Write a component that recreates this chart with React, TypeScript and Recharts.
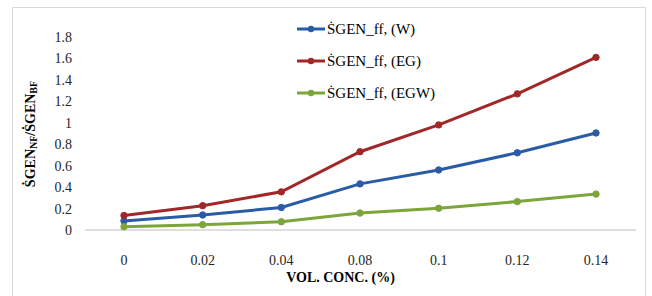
import React from "react";
import { LineChart, Line, XAxis, YAxis, Legend, Label } from "recharts";

const categories = ["0", "0.02", "0.04", "0.08", "0.1", "0.12", "0.14"];
const seriesW = [0.085, 0.14, 0.21, 0.43, 0.56, 0.72, 0.905];
const seriesEG = [0.135, 0.227, 0.356, 0.73, 0.98, 1.27, 1.61];
const seriesEGW = [0.03, 0.05, 0.077, 0.158, 0.203, 0.265, 0.335];
const yTicks = [0, 0.2, 0.4, 0.6, 0.8, 1, 1.2, 1.4, 1.6, 1.8];

const names = ["\u1E60GEN_ff, (W)", "\u1E60GEN_ff, (EG)", "\u1E60GEN_ff, (EGW)"];
const colors = ["#2a5ca6", "#a12828", "#7ca53a"];

const data = categories.map((c, i) => ({
  conc: c,
  w: seriesW[i],
  eg: seriesEG[i],
  egw: seriesEGW[i],
}));

const FONT = "Liberation Serif";

const LegendContent = (props: any) => {
  const payload = [...(props.payload || [])].sort(
    (a: any, b: any) => names.indexOf(a.value) - names.indexOf(b.value)
  );
  return (
    <div style={{ fontFamily: FONT, fontSize: 15, color: "#000" }}>
      {payload.map((p: any) => (
        <div key={p.value} style={{ display: "flex", alignItems: "center", height: 32 }}>
          <svg width={28} height={32} style={{ display: "block" }}>
            <line x1={0} y1={16} x2={28} y2={16} stroke={p.color} strokeWidth={3} />
            <circle cx={14} cy={16} r={3.2} fill={p.color} />
          </svg>
          <span style={{ marginLeft: 2, whiteSpace: "nowrap" }}>{p.value}</span>
        </div>
      ))}
    </div>
  );
};

const YLabel = (props: any) => {
  const cx = 30;
  const cy = 134;
  return (
    <text
      x={cx}
      y={cy}
      transform={`rotate(-90 ${cx} ${cy})`}
      textAnchor="middle"
      dominantBaseline="central"
      fontFamily={FONT}
      fontWeight="bold"
      fontSize={14}
      fill="#000"
    >
      <tspan>{"\u1E60GEN"}</tspan>
      <tspan fontSize={10} dy={3}>NF</tspan>
      <tspan dy={-3}>{"/\u1E60GEN"}</tspan>
      <tspan fontSize={10} dy={3}>BF</tspan>
    </text>
  );
};

export default function App() {
  return (
    <div style={{ position: "absolute", left: 0, top: 0, width: 652, height: 296, overflow: "hidden", background: "#fff", fontFamily: FONT }}>
      <div
        style={{
          position: "absolute",
          left: 12,
          top: 7,
          width: 634,
          height: 300,
          border: "1px solid #d9d9d9",
          boxSizing: "border-box",
        }}
      />
      <LineChart
        width={652}
        height={296}
        data={data}
        margin={{ top: 37, right: 16, bottom: 0, left: 0 }}
        style={{ position: "absolute", left: 0, top: 0, fontFamily: FONT }}
      >
        <XAxis
          dataKey="conc"
          height={66}
          padding={{ left: 39, right: 40 }}
          tickLine={false}
          tickSize={0}
          tickMargin={25}
          axisLine={{ stroke: "#bfbfbf", strokeWidth: 1 }}
          tick={{ fontFamily: FONT, fontSize: 14, fill: "#262626" }}
          interval={0}
        >
          <Label
            value="VOL. CONC. (%)"
            position="insideBottom"
            offset={14}
            dx={-20}
            style={{ fontFamily: FONT, fontSize: 14, fontWeight: "bold", fill: "#000" }}
          />
        </XAxis>
        <YAxis
          width={85}
          domain={[0, 1.8]}
          ticks={yTicks}
          axisLine={false}
          tickLine={false}
          tickSize={0}
          tickMargin={13}
          tick={{ fontFamily: FONT, fontSize: 14, fill: "#262626" }}
          interval={0}
        >
          <Label content={<YLabel />} />
        </YAxis>
        <Legend
          layout="vertical"
          verticalAlign="middle"
          align="center"
          content={<LegendContent />}
          wrapperStyle={{ position: "absolute", left: 297, top: 13, width: "auto" }}
        />
        <Line
          dataKey="w"
          name={names[0]}
          stroke={colors[0]}
          strokeWidth={3}
          dot={{ r: 3.2, fill: colors[0], stroke: colors[0], strokeWidth: 1 }}
          isAnimationActive={false}
        />
        <Line
          dataKey="eg"
          name={names[1]}
          stroke={colors[1]}
          strokeWidth={3}
          dot={{ r: 3.2, fill: colors[1], stroke: colors[1], strokeWidth: 1 }}
          isAnimationActive={false}
        />
        <Line
          dataKey="egw"
          name={names[2]}
          stroke={colors[2]}
          strokeWidth={3}
          dot={{ r: 3.2, fill: colors[2], stroke: colors[2], strokeWidth: 1 }}
          isAnimationActive={false}
        />
      </LineChart>
    </div>
  );
}
